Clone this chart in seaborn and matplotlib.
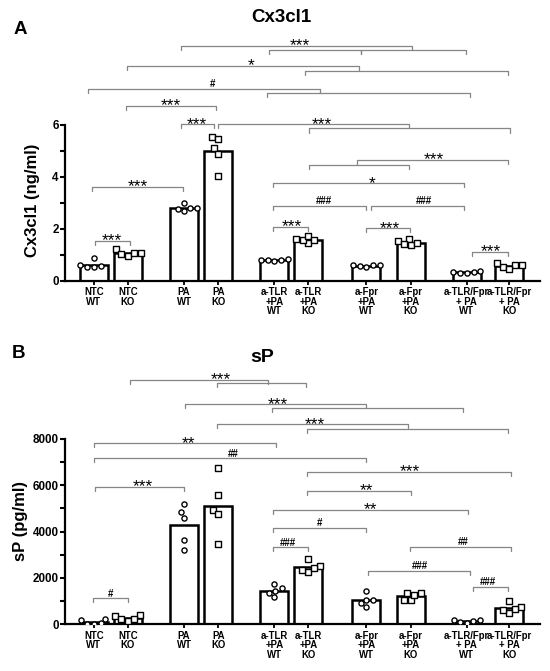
import numpy as np
import pandas as pd
import matplotlib.pyplot as plt
import seaborn as sns
from matplotlib.markers import MarkerStyle

# grupy i pozycje słupków (jednostka = odstęp w parze WT/KO)
groups = ['NTC\nWT', 'NTC\nKO', 'PA\nWT', 'PA\nKO',
          'a-TLR\n+PA\nWT', 'a-TLR\n+PA\nKO', 'a-Fpr\n+PA\nWT', 'a-Fpr\n+PA\nKO',
          'a-TLR/Fpr\n+ PA\nWT', 'a-TLR/Fpr\n+ PA\nKO']
genotype = ['WT', 'KO'] * 5
xpos = [0, 1, 2.65, 3.65, 5.3, 6.3, 8.0, 9.3, 10.95, 12.2]

# pojedyncze pomiary (n=5)
cx3cl1 = [
    [0.55, 0.60, 0.88, 0.58, 0.55],
    [1.22, 1.08, 0.98, 1.08, 1.05],
    [2.68, 2.82, 3.00, 2.82, 2.78],
    [5.55, 5.45, 5.10, 4.90, 4.05],
    [0.80, 0.84, 0.80, 0.78, 0.80],
    [1.62, 1.45, 1.58, 1.72, 1.58],
    [0.58, 0.62, 0.60, 0.62, 0.55],
    [1.62, 1.38, 1.52, 1.42, 1.45],
    [0.32, 0.38, 0.36, 0.33, 0.30],
    [0.55, 0.70, 0.60, 0.60, 0.48],
]
sp = [
    [10, 250, 40, 180, 30],
    [420, 150, 360, 230, 250],
    [5200, 4850, 4600, 3650, 3200],
    [6740, 5590, 4940, 4760, 3470],
    [1550, 1170, 1450, 1740, 1340],
    [2260, 2500, 2810, 2330, 2450],
    [750, 1050, 1450, 1050, 900],
    [1330, 1030, 1330, 1060, 1280],
    [80, 180, 190, 150, 50],
    [500, 760, 1000, 620, 680],
]

# klamry istotności: (x1, x2, y, etykieta, x etykiety)
cx3cl1_brackets = [
    (2.56, 9.35, 9.04, '***', 6.06),
    (5.15, 7.85, 8.88, '', 0),
    (7.85, 10.94, 8.88, '', 0),
    (0.97, 7.79, 8.27, '*', 4.62),
    (6.21, 12.15, 8.08, '', 0),
    (-0.18, 6.65, 7.40, '#', 3.47),
    (5.09, 11.03, 7.22, '', 0),
    (0.94, 3.59, 6.73, '***', 2.26),
    (2.56, 3.53, 6.03, '***', 3.03),
    (3.65, 9.26, 6.03, '***', 6.68),
    (6.32, 12.21, 5.87, '', 0),
    (7.74, 12.15, 4.65, '***', 9.97),
    (6.32, 9.26, 4.46, '', 0),
    (5.26, 10.88, 3.76, '*', 8.18),
    (-0.06, 2.62, 3.63, '***', 1.29),
    (5.26, 8.0, 2.90, '###', 6.76),
    (8.15, 10.88, 2.90, '###', 9.68),
    (5.26, 6.29, 2.07, '***', 5.82),
    (8.0, 9.29, 2.03, '***', 8.70),
    (0.03, 1.06, 1.54, '***', 0.53),
    (11.09, 12.15, 1.13, '***', 11.65),
]
sp_brackets = [
    (1.06, 5.12, 10546, '***', 3.74),
    (3.62, 6.24, 10404, '', 0),
    (2.68, 8.0, 9497, '***', 5.41),
    (5.24, 10.85, 9338, '', 0),
    (3.62, 9.21, 8634, '***', 6.50),
    (6.26, 12.15, 8431, '', 0),
    (0.0, 5.35, 7814, '**', 2.79),
    (0.0, 8.0, 7166, '##', 4.09),
    (6.26, 12.24, 6588, '***', 9.29),
    (0.03, 2.65, 5940, '***', 1.44),
    (6.26, 9.32, 5776, '**', 8.0),
    (5.26, 11.0, 4934, '**', 8.12),
    (5.26, 8.0, 4170, '#', 6.62),
    (5.26, 6.29, 3324, '###', 5.71),
    (9.29, 12.26, 3350, '##', 10.85),
    (8.06, 11.03, 2314, '###', 9.56),
    (11.12, 12.15, 1623, '###', 11.56),
    (-0.03, 1.0, 1122, '#', 0.50),
]

_sq = MarkerStyle('s')
SQUARE = _sq.get_path().transformed(_sq.get_transform())


def make_frame(points):
    rows = []
    for pos, g, vals in zip(xpos, genotype, points):
        for v in vals:
            rows.append({'x': pos, 'geno': g, 'value': v})
    return pd.DataFrame(rows)


def draw_brackets(ax, brackets, tick):
    for x1, x2, y, label, lx in brackets:
        ax.plot([x1, x1, x2, x2], [y - tick, y, y, y - tick], color='#858585',
                lw=0.9, clip_on=False, zorder=1)
        if label:
            if label.startswith('*'):
                ax.annotate(label, (lx, y), xytext=(0, -3.2), textcoords='offset points',
                            ha='center', va='baseline', fontsize=12.5, color='black')
            else:
                ax.annotate(label, (lx, y), xytext=(0, 1.2), textcoords='offset points',
                            ha='center', va='baseline', fontsize=7, fontweight='bold',
                            color='black')


def draw_panel(ax, points, ymax, ystep, ytop, brackets, tick, ylabel):
    df = make_frame(points)
    sns.barplot(data=df, x='x', y='value', native_scale=True, estimator='mean',
                errorbar=None, width=0.82, color='white', edgecolor='black',
                linewidth=1.8, saturation=1, ax=ax, zorder=2)
    # jeden rój dla wszystkich grup -> szerokość ograniczona do słupka
    n_before = len(ax.collections)
    sns.swarmplot(data=df, x='x', y='value', native_scale=True, marker='o',
                  size=3.7, color='white', edgecolor='black', linewidth=1.0,
                  warn_thresh=1.0, ax=ax, zorder=4)
    # KO jako kwadraty
    for coll, g in zip(ax.collections[n_before:], genotype):
        if g == 'KO':
            coll.set_paths([SQUARE])
    draw_brackets(ax, brackets, tick)

    ax.set_xlim(-0.85, 13.1)
    ax.set_ylim(0, ytop)
    ax.set_xticks(xpos)
    ax.set_xticklabels(groups, fontsize=6.9, fontweight='bold', linespacing=0.95)
    ax.set_yticks(np.arange(0, ymax + 1, ystep))
    ax.set_yticks(np.arange(ystep / 2, ymax, ystep), minor=True)
    ax.tick_params(axis='y', which='major', labelsize=8.4, width=1.5, length=3.5, pad=1)
    ax.tick_params(axis='y', which='minor', width=1.5, length=3.5)
    ax.tick_params(axis='x', width=1.3, length=3, pad=1.5)
    for lab in ax.get_yticklabels():
        lab.set_fontweight('bold')
    ax.set_xlabel('')
    ax.set_ylabel(ylabel, fontsize=12, fontweight='bold')
    sns.despine(ax=ax)
    ax.spines['left'].set_bounds(0, ymax)
    ax.spines['left'].set_linewidth(1.6)
    ax.spines['bottom'].set_linewidth(1.6)
    ax.set_facecolor('none')


sns.set_theme(style='ticks')
plt.rcParams['font.family'] = ['Liberation Sans', 'DejaVu Sans']
plt.rcParams.update({'text.color': 'black', 'axes.labelcolor': 'black',
                     'axes.edgecolor': 'black', 'xtick.color': 'black',
                     'ytick.color': 'black'})

fig = plt.figure(figsize=(5.5, 6.71), dpi=100)
axA = fig.add_axes([65 / 550, 390 / 671, 475 / 550, 246 / 671])
axB = fig.add_axes([65 / 550, 46.7 / 671, 475 / 550, 259.3 / 671])

draw_panel(axA, cx3cl1, 6, 2, 9.46, cx3cl1_brackets, 0.16, 'Cx3cl1 (ng/ml)')
draw_panel(axB, sp, 8000, 2000, 11194, sp_brackets, 180, 'sP (pg/ml)')
axA.yaxis.set_label_coords(-0.053, 0.33)
axB.yaxis.set_label_coords(-0.078, 0.40)

fig.text(281 / 550, 1 - 17.5 / 671, 'Cx3cl1', ha='center', va='center', fontsize=13.5, fontweight='bold')
fig.text(262 / 550, 1 - 357.5 / 671, 'sP', ha='center', va='center', fontsize=14, fontweight='bold')
fig.text(20 / 550, 1 - 29 / 671, 'A', ha='center', va='center', fontsize=13.5, fontweight='bold')
fig.text(18.5 / 550, 1 - 354 / 671, 'B', ha='center', va='center', fontsize=13.5, fontweight='bold')

fig.savefig('out.png', dpi=100)
